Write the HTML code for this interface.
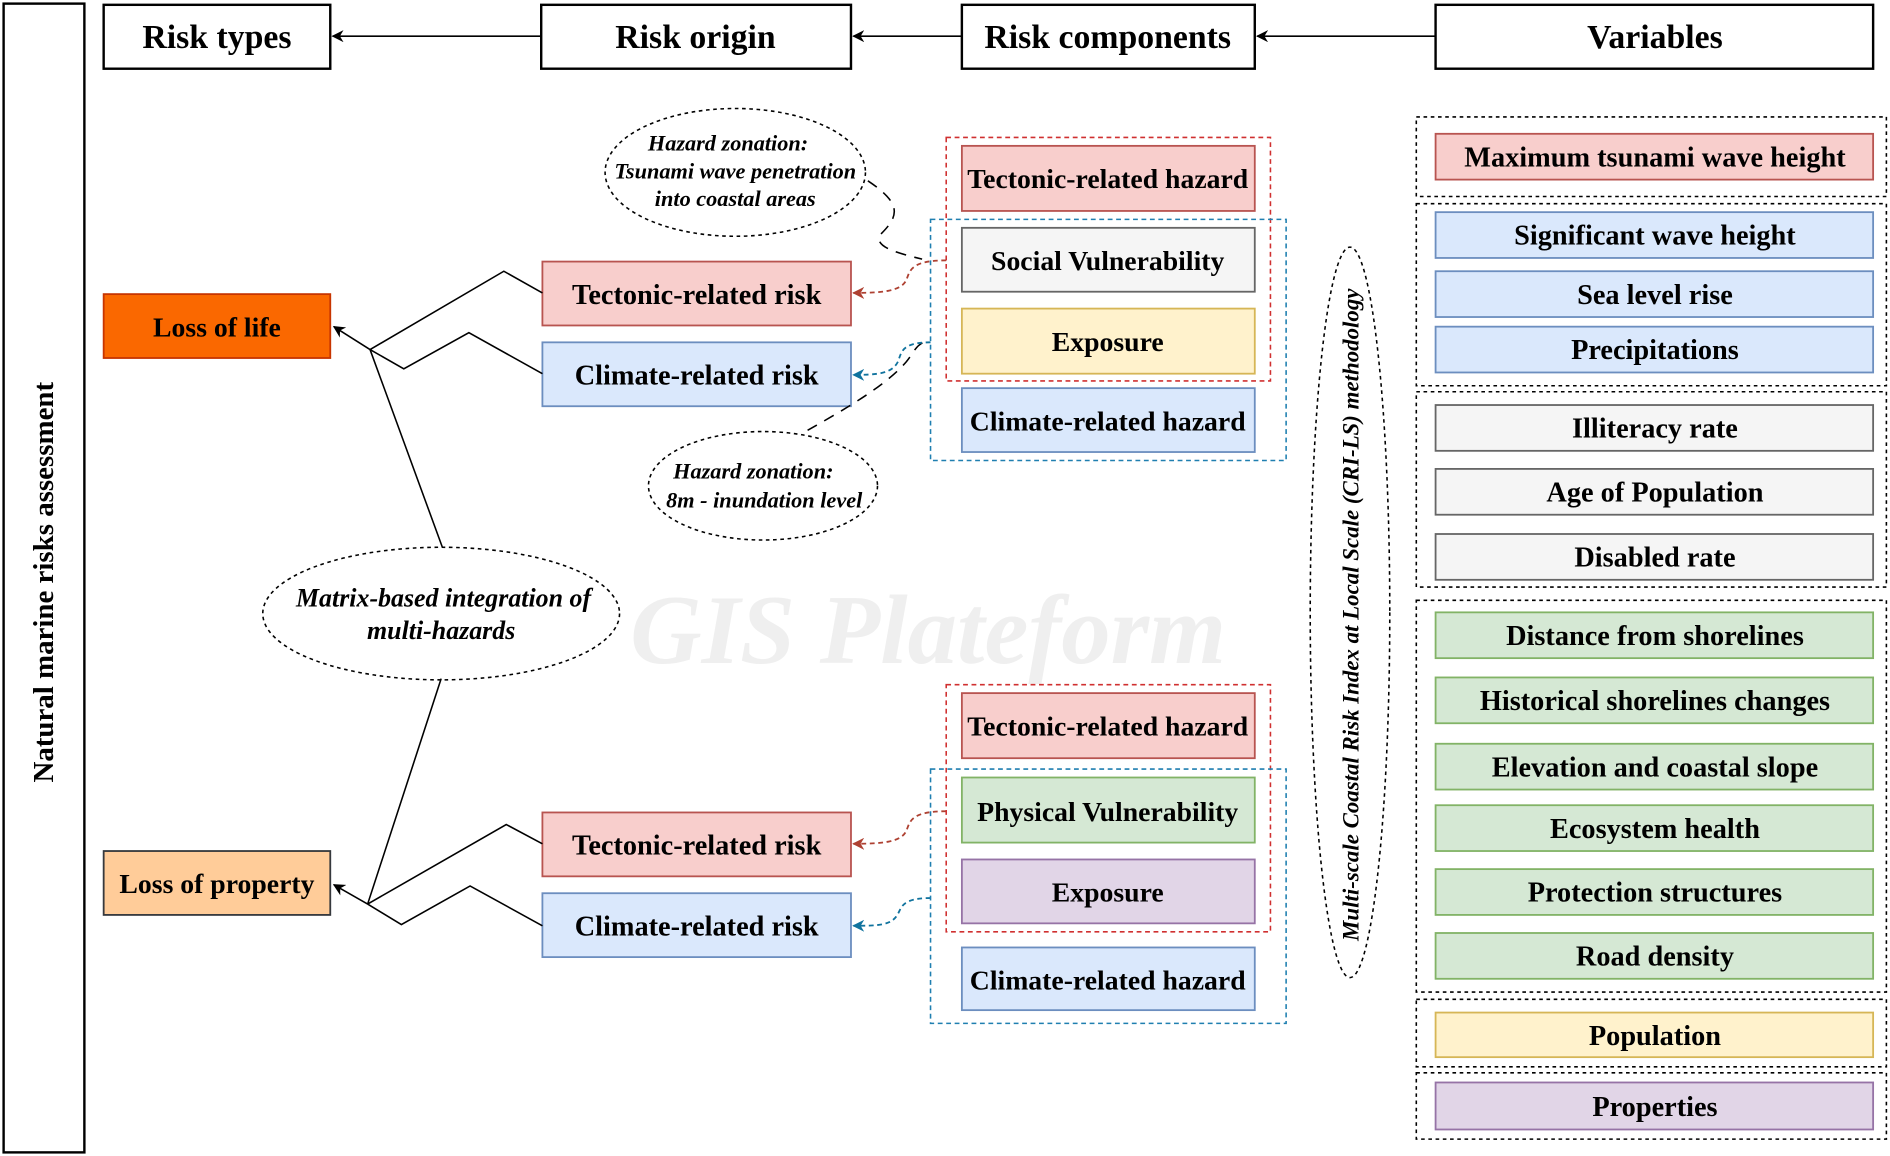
<!DOCTYPE html>
<html><head><meta charset="utf-8"><style>
html,body{margin:0;padding:0;background:#fff;}
svg{display:block;}
text{font-family:"Liberation Serif",serif;font-weight:bold;}
</style></head><body>
<svg width="1890" height="1156" viewBox="0 0 1568 959" preserveAspectRatio="none" xmlns="http://www.w3.org/2000/svg">
<defs>
<marker id="ab" markerWidth="10" markerHeight="10" refX="9" refY="5" orient="auto" markerUnits="userSpaceOnUse"><path d="M0,0 L10,5 L0,10 L3,5z" fill="#000"/></marker>
<marker id="ar" markerWidth="10" markerHeight="10" refX="9" refY="5" orient="auto" markerUnits="userSpaceOnUse"><path d="M0,0 L10,5 L0,10 L3,5z" fill="#ae4132"/></marker>
<marker id="abl" markerWidth="10" markerHeight="10" refX="9" refY="5" orient="auto" markerUnits="userSpaceOnUse"><path d="M0,0 L10,5 L0,10 L3,5z" fill="#10739e"/></marker>
</defs>
<text x="770" y="550" font-size="82" font-style="italic" fill="#efefef" text-anchor="middle">GIS Plateform</text>

<rect x="3" y="3" width="67" height="953" fill="none" stroke="#000" stroke-width="2"/>
<text transform="translate(44,483) rotate(-90)" font-size="24" text-anchor="middle">Natural marine risks assessment</text>

<g stroke="#000" stroke-width="2" fill="#fff">
<rect x="86" y="4" width="188" height="53"/><rect x="449" y="4" width="257" height="53"/>
<rect x="798" y="4" width="243" height="53"/><rect x="1191" y="4" width="363" height="53"/>
</g>
<g font-size="28" text-anchor="middle">
<text x="180" y="40">Risk types</text><text x="577" y="40">Risk origin</text>
<text x="919" y="40">Risk components</text><text x="1373" y="40">Variables</text>
</g>
<g stroke="#000" stroke-width="1.3" marker-end="url(#ab)">
<line x1="449" y1="30" x2="276" y2="30"/><line x1="798" y1="30" x2="708" y2="30"/><line x1="1191" y1="30" x2="1043" y2="30"/>
</g>

<rect x="86" y="244" width="188" height="53" fill="#fa6800" stroke="#c73500" stroke-width="1.5"/>
<text x="180" y="279" font-size="23" text-anchor="middle">Loss of life</text>
<rect x="86" y="706" width="188" height="53" fill="#ffcc99" stroke="#36393d" stroke-width="1.5"/>
<text x="180" y="741" font-size="23" text-anchor="middle">Loss of property</text>

<g stroke-width="1.5">
<rect x="450" y="217" width="256" height="53" fill="#f8cecc" stroke="#b85450"/>
<rect x="450" y="284" width="256" height="53" fill="#dae8fc" stroke="#6c8ebf"/>
<rect x="450" y="674" width="256" height="53" fill="#f8cecc" stroke="#b85450"/>
<rect x="450" y="741" width="256" height="53" fill="#dae8fc" stroke="#6c8ebf"/>
</g>
<g font-size="23.5" text-anchor="middle">
<text x="578" y="252">Tectonic-related risk</text><text x="578" y="319">Climate-related risk</text>
<text x="578" y="709">Tectonic-related risk</text><text x="578" y="776">Climate-related risk</text>
</g>

<g fill="none" stroke="#000" stroke-width="1.3">
<path d="M450,243 L418,225 L307,290"/><path d="M450,310 L389,276 L335,306 L307,290"/>
<line x1="307" y1="290" x2="277" y2="271" marker-end="url(#ab)"/>
<line x1="307" y1="290" x2="367" y2="454"/>
<path d="M450,700 L420,684 L305,750"/><path d="M450,768 L390,735 L333,767 L305,750"/>
<line x1="305" y1="750" x2="277" y2="734" marker-end="url(#ab)"/>
<line x1="305" y1="750" x2="366" y2="563"/>
</g>

<g fill="none" stroke="#000" stroke-width="1.3" stroke-dasharray="3,3">
<ellipse cx="610" cy="143" rx="108" ry="53"/>
<ellipse cx="633" cy="403" rx="95" ry="45"/>
<ellipse cx="366" cy="509" rx="148" ry="55"/>
<ellipse cx="1120" cy="508" rx="33" ry="303"/>
</g>
<g font-size="18.5" font-style="italic" text-anchor="middle">
<text x="604" y="125">Hazard zonation:</text><text x="610" y="148">Tsunami wave penetration</text><text x="610" y="171">into coastal areas</text>
<text x="625" y="397">Hazard zonation:</text><text x="634" y="421">8m - inundation level</text>
</g>
<g font-size="21.5" font-style="italic" text-anchor="middle">
<text x="368" y="503">Matrix-based integration of</text><text x="366" y="530">multi-hazards</text>
</g>
<text transform="translate(1127,510) rotate(-90)" font-size="19" font-style="italic" text-anchor="middle">Multi-scale Coastal Risk Index at Local Scale (CRI-LS) methodology</text>

<g fill="none" stroke="#000" stroke-width="1.3" stroke-dasharray="9,7">
<path d="M720,150 C750,170 745,180 730,195 C725,205 745,210 765,215"/>
<path d="M670,357 C700,340 735,320 752,300 C760,290 760,285 770,283"/>
</g>
<path d="M785,216 C755,216 755,225 752,232 C748,242 730,243 708,243" fill="none" stroke="#ae4132" stroke-width="1.5" stroke-dasharray="4,3" marker-end="url(#ar)"/>
<path d="M772,284 C748,284 748,292 745,300 C740,310 728,311 708,311" fill="none" stroke="#10739e" stroke-width="1.5" stroke-dasharray="4,3" marker-end="url(#abl)"/>
<path d="M785,673 C755,673 755,682 752,689 C748,699 730,700 708,700" fill="none" stroke="#ae4132" stroke-width="1.5" stroke-dasharray="4,3" marker-end="url(#ar)"/>
<path d="M772,745 C748,745 748,753 745,758 C740,768 728,768 708,768" fill="none" stroke="#10739e" stroke-width="1.5" stroke-dasharray="4,3" marker-end="url(#abl)"/>

<g stroke-width="1.5">
<rect x="798" y="121" width="243" height="54" fill="#f8cecc" stroke="#b85450"/>
<rect x="798" y="189" width="243" height="53" fill="#f5f5f5" stroke="#666"/>
<rect x="798" y="256" width="243" height="54" fill="#fff2cc" stroke="#d6b656"/>
<rect x="798" y="322" width="243" height="53" fill="#dae8fc" stroke="#6c8ebf"/>
<rect x="798" y="575" width="243" height="54" fill="#f8cecc" stroke="#b85450"/>
<rect x="798" y="645" width="243" height="54" fill="#d5e8d4" stroke="#82b366"/>
<rect x="798" y="713" width="243" height="53" fill="#e1d5e7" stroke="#9673a6"/>
<rect x="798" y="786" width="243" height="52" fill="#dae8fc" stroke="#6c8ebf"/>
</g>
<g fill="none" stroke-width="1.3" stroke-dasharray="4,3">
<rect x="785" y="114" width="269" height="202" stroke="#d03030"/>
<rect x="772" y="182" width="295" height="200" stroke="#1f7fb0"/>
<rect x="785" y="568" width="269" height="205" stroke="#d03030"/>
<rect x="772" y="638" width="295" height="211" stroke="#1f7fb0"/>
</g>
<g font-size="23" text-anchor="middle">
<text x="919" y="156">Tectonic-related hazard</text><text x="919" y="224">Social Vulnerability</text>
<text x="919" y="291">Exposure</text><text x="919" y="357">Climate-related hazard</text>
<text x="919" y="610">Tectonic-related hazard</text><text x="919" y="681">Physical Vulnerability</text>
<text x="919" y="748">Exposure</text><text x="919" y="821">Climate-related hazard</text>
</g>

<g fill="none" stroke="#000" stroke-width="1.3" stroke-dasharray="3,3">
<rect x="1175" y="97" width="390" height="66"/><rect x="1175" y="169" width="390" height="151"/>
<rect x="1175" y="325" width="390" height="162"/><rect x="1175" y="498" width="390" height="325"/>
<rect x="1175" y="829" width="390" height="56"/><rect x="1175" y="890" width="390" height="55"/>
</g>
<g stroke-width="1.5">
<rect x="1191" y="111" width="363" height="38" fill="#f8cecc" stroke="#b85450"/>
<rect x="1191" y="176" width="363" height="38" fill="#dae8fc" stroke="#6c8ebf"/>
<rect x="1191" y="225" width="363" height="38" fill="#dae8fc" stroke="#6c8ebf"/>
<rect x="1191" y="271" width="363" height="38" fill="#dae8fc" stroke="#6c8ebf"/>
<rect x="1191" y="336" width="363" height="38" fill="#f5f5f5" stroke="#666"/>
<rect x="1191" y="389" width="363" height="38" fill="#f5f5f5" stroke="#666"/>
<rect x="1191" y="443" width="363" height="38" fill="#f5f5f5" stroke="#666"/>
<rect x="1191" y="508" width="363" height="38" fill="#d5e8d4" stroke="#82b366"/>
<rect x="1191" y="562" width="363" height="38" fill="#d5e8d4" stroke="#82b366"/>
<rect x="1191" y="617" width="363" height="38" fill="#d5e8d4" stroke="#82b366"/>
<rect x="1191" y="668" width="363" height="38" fill="#d5e8d4" stroke="#82b366"/>
<rect x="1191" y="721" width="363" height="38" fill="#d5e8d4" stroke="#82b366"/>
<rect x="1191" y="774" width="363" height="38" fill="#d5e8d4" stroke="#82b366"/>
<rect x="1191" y="840" width="363" height="37" fill="#fff2cc" stroke="#d6b656"/>
<rect x="1191" y="898" width="363" height="39" fill="#e1d5e7" stroke="#9673a6"/>
</g>
<g font-size="23.5" text-anchor="middle">
<text x="1373" y="138">Maximum tsunami wave height</text>
<text x="1373" y="203">Significant wave height</text>
<text x="1373" y="252">Sea level rise</text>
<text x="1373" y="298">Precipitations</text>
<text x="1373" y="363">Illiteracy rate</text>
<text x="1373" y="416">Age of Population</text>
<text x="1373" y="470">Disabled rate</text>
<text x="1373" y="535">Distance from shorelines</text>
<text x="1373" y="589">Historical shorelines changes</text>
<text x="1373" y="644">Elevation and coastal slope</text>
<text x="1373" y="695">Ecosystem health</text>
<text x="1373" y="748">Protection structures</text>
<text x="1373" y="801">Road density</text>
<text x="1373" y="867">Population</text>
<text x="1373" y="926">Properties</text>
</g>
</svg>
</body></html>
